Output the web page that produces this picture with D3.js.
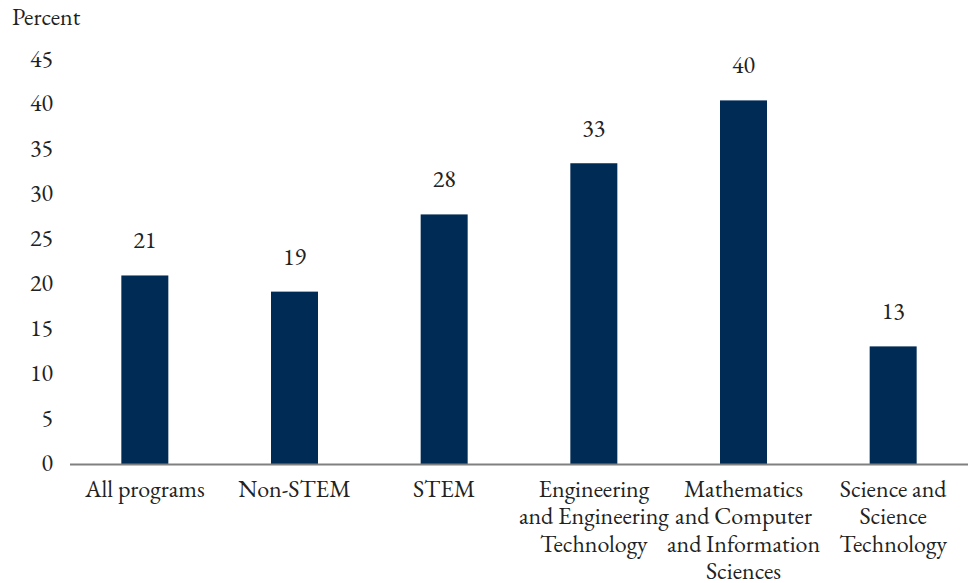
<!DOCTYPE html>
<html><head><meta charset="utf-8">
<script src="https://cdn.jsdelivr.net/npm/d3@7"></script>
<style>body{margin:0;background:#fff;}</style>
</head><body>
<svg id="c" width="969" height="583"></svg>
<script>
const categories = ["All programs","Non-STEM","STEM","Engineering and Engineering Technology","Mathematics and Computer and Information Sciences","Science and Science Technology"];
const categoryLines = [["All programs"],["Non-STEM"],["STEM"],["Engineering","and Engineering","Technology"],["Mathematics","and Computer","and Information","Sciences"],["Science and","Science","Technology"]];
const values = [21.0, 19.2, 27.8, 33.5, 40.5, 13.1];
const valueLabels = ["21","19","28","33","40","13"];
const yTicks = [0,5,10,15,20,25,30,35,40,45];

const FONT = "'EB Garamond', 'Liberation Serif', serif";
const FS = 24, TXT = "#222";
const svg = d3.select("#c");
const mLeft = 70, mRight = 968, mTop = 60, mBottom = 464;
const x = d3.scaleBand().domain(categories).range([mLeft, mRight]).paddingInner(0.686).paddingOuter(0.343);
const y = d3.scaleLinear().domain([0,45]).range([mBottom, mTop]);

svg.append("text").attr("x",12).attr("y",25).attr("font-size",FS).attr("font-family",FONT).attr("fill",TXT).text("Percent");

const ya = svg.append("g").attr("transform",`translate(${mLeft},0)`)
  .call(d3.axisLeft(y).tickValues(yTicks).tickSize(0).tickPadding(17));
ya.attr("font-family",FONT).attr("font-size",FS);
ya.select(".domain").remove();
ya.selectAll("text").attr("font-size",FS).attr("font-family",FONT).attr("fill",TXT).attr("dy","0.25em");

svg.selectAll("rect.bar").data(values).join("rect").attr("class","bar")
  .attr("x",(d,i)=>x(categories[i])).attr("width",x.bandwidth())
  .attr("y",d=>y(d)).attr("height",d=>mBottom-y(d)).attr("fill","#002b55");

svg.selectAll("text.val").data(values).join("text").attr("class","val")
  .attr("x",(d,i)=>x(categories[i])+x.bandwidth()/2).attr("y",d=>y(d)-27)
  .attr("text-anchor","middle").attr("font-size",FS).attr("font-family",FONT).attr("fill",TXT)
  .text((d,i)=>valueLabels[i]);

svg.append("line").attr("x1",mLeft).attr("x2",mRight).attr("y1",mBottom+0.5).attr("y2",mBottom+0.5)
  .attr("stroke","#808080").attr("stroke-width",2);

categories.forEach((c,i)=>{
  const cx = x(c)+x.bandwidth()/2;
  const t = svg.append("text").attr("text-anchor","middle").attr("font-size",FS)
    .attr("font-family",FONT).attr("fill",TXT).attr("x",cx).attr("y",497);
  categoryLines[i].forEach((l,j)=>t.append("tspan").attr("x",cx).attr("dy",j?27.3:0).text(l));
});
</script>
</body></html>
